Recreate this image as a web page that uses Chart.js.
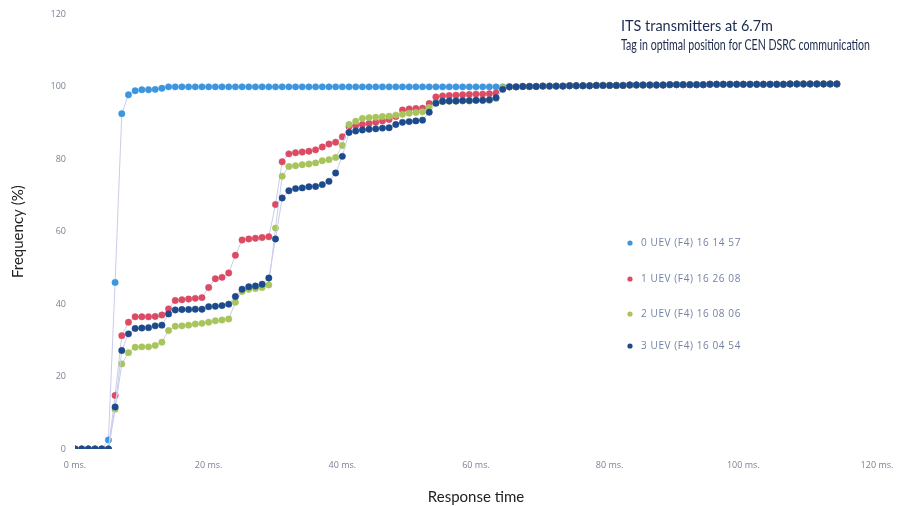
<!DOCTYPE html>
<html>
<head>
<meta charset="utf-8">
<script src="https://cdn.jsdelivr.net/npm/chart.js@4.4.1/dist/chart.umd.min.js"></script>
<style>
  html, body { margin: 0; padding: 0; background: #ffffff; }
  #wrap { width: 909px; height: 506px; position: relative; }
</style>
</head>
<body>
<div id="wrap"><canvas id="myChart"></canvas></div>
<script>
// response time in ms, one point per ms
const times = [
  0, 1, 2, 3, 4, 5, 6, 7, 8, 9, 10, 11, 12, 13, 14, 15, 16, 17, 18, 19,
  20, 21, 22, 23, 24, 25, 26, 27, 28, 29, 30, 31, 32, 33, 34, 35, 36, 37, 38, 39,
  40, 41, 42, 43, 44, 45, 46, 47, 48, 49, 50, 51, 52, 53, 54, 55, 56, 57, 58, 59,
  60, 61, 62, 63, 64, 65, 66, 67, 68, 69, 70, 71, 72, 73, 74, 75, 76, 77, 78, 79,
  80, 81, 82, 83, 84, 85, 86, 87, 88, 89, 90, 91, 92, 93, 94, 95, 96, 97, 98, 99,
  100, 101, 102, 103, 104, 105, 106, 107, 108, 109, 110, 111, 112, 113, 114
];

const seriesLabels = ['0 UEV (F4) 16 14 57', '1 UEV (F4) 16 26 08', '2 UEV (F4) 16 08 06', '3 UEV (F4) 16 04 54'];
const seriesColors = ['#3b96df', '#db4b64', '#a8c45c', '#1d4a8c'];

// 0..64 ms
const uev0Head = [
  0, 0, 0, 0, 0, 2.5, 46, 92.6, 97.8, 98.9, 99.2, 99.2, 99.3, 99.6, 100, 100, 100, 100, 100, 100,
  100, 100, 100, 100, 100, 100, 100, 100, 100, 100, 100, 100, 100, 100, 100, 100, 100, 100, 100, 100,
  100, 100, 100, 100, 100, 100, 100, 100, 100, 100, 100, 100, 100, 100, 100, 100, 100, 100, 100, 100,
  100, 100, 100, 100, 100
];
const uev1Head = [
  0, 0, 0, 0, 0, 0, 14.8, 31.3, 35, 36.5, 36.5, 36.5, 36.6, 37, 38.7, 41, 41.2, 41.4, 41.6, 41.8,
  44.6, 47, 47.4, 48.6, 53.5, 57.7, 58, 58.2, 58.4, 58.6, 67.5, 79.3, 81.5, 81.8, 82, 82.2, 82.6, 83.4, 84.2, 84.7,
  86.2, 89, 89.3, 89.6, 89.9, 90.2, 90.6, 91, 91.8, 93.6, 93.9, 94, 94.1, 95.4, 97.2, 97.5, 97.6, 97.7, 97.8, 97.9,
  98, 98, 98.1, 98.3, 99.6
];
const uev2Head = [
  0, 0, 0, 0, 0, 0, 11, 23.5, 26.6, 28.1, 28.2, 28.2, 28.6, 29.5, 32.7, 33.9, 34, 34.2, 34.5, 34.7,
  35, 35.4, 35.6, 35.9, 40.5, 43.5, 44.1, 44.3, 44.6, 45.3, 61, 75.3, 78, 78.2, 78.5, 78.7, 79, 79.6, 79.9, 80.5,
  83.8, 89.6, 90.5, 91.3, 91.5, 91.6, 91.8, 91.9, 92.2, 92.4, 92.7, 92.9, 93.1, 94.3, 95.5, 95.9, 96, 96, 96.1, 96.1,
  96.2, 96.2, 96.3, 96.8, 99.8
];
const uev3Head = [
  0, 0, 0, 0, 0, 0, 11.6, 27.2, 31.8, 33.3, 33.4, 33.5, 34, 34.2, 37.3, 38.4, 38.5, 38.5, 38.6, 38.6,
  39.3, 39.4, 39.6, 40, 42.1, 44.1, 44.8, 45, 45.5, 47.2, 58, 69.3, 71.3, 71.9, 72.1, 72.4, 72.5, 73, 73.9, 76.2,
  80.8, 87.4, 87.8, 88.1, 88.3, 88.4, 88.6, 88.7, 89.6, 90.2, 90.4, 90.6, 90.8, 93, 95.5, 96, 96.1, 96.1, 96.2, 96.2,
  96.3, 96.3, 96.4, 97, 99.3
];
// 65..114 ms, all four runs overlap here
const tailValues = [
  100, 100, 100.1, 100.1, 100.1, 100.2, 100.2, 100.2, 100.2, 100.3,
  100.3, 100.3, 100.3, 100.4, 100.4, 100.4, 100.4, 100.4, 100.5, 100.5,
  100.5, 100.5, 100.5, 100.5, 100.6, 100.6, 100.6, 100.6, 100.6, 100.6,
  100.7, 100.7, 100.7, 100.7, 100.7, 100.7, 100.7, 100.7, 100.7, 100.7,
  100.7, 100.7, 100.8, 100.8, 100.8, 100.8, 100.8, 100.8, 100.8, 100.8
];

const yTicks = [0, 20, 40, 60, 80, 100, 120];
const xTicks = [0, 20, 40, 60, 80, 100, 120];

const titleLines = ['ITS transmitters at 6.7m', 'Tag in optimal position for CEN DSRC communication'];

const allSeries = [uev0Head, uev1Head, uev2Head, uev3Head].map(function (head) {
  return head.concat(tailValues);
});

function toPoints(values) {
  return values.map(function (v, i) { return { x: times[i], y: v }; });
}

const datasets = allSeries.map(function (values, i) {
  return {
    label: seriesLabels[i],
    data: toPoints(values),
    borderColor: '#c9cdea',
    borderWidth: 1,
    backgroundColor: seriesColors[i],
    pointBackgroundColor: seriesColors[i],
    pointBorderColor: seriesColors[i],
    pointBorderWidth: 0.5,
    pointRadius: 3.2,
    order: 3 - i // last run on top
  };
});

// title block and legend drawn inside the plot, top right
const overlayPlugin = {
  id: 'overlay',
  afterDraw: function (chart) {
    const c = chart.ctx;
    c.save();
    c.fillStyle = '#1c2a4e';
    c.font = '15px "Liberation Sans Narrow", Lato';
    c.textBaseline = 'middle';
    c.textAlign = 'left';
    c.fillText(titleLines[0], 621, 26, 152);
    c.fillText(titleLines[1], 621, 45, 249);

    const rows = [243, 279, 314, 346];
    c.font = '10px "Open Sans"';
    c.letterSpacing = '0.6px';
    rows.forEach(function (y, i) {
      c.beginPath();
      c.fillStyle = seriesColors[i];
      c.arc(630, y, 2.6, 0, Math.PI * 2);
      c.fill();
      c.fillStyle = '#7282a2';
      c.fillText(seriesLabels[i], 641, y);
    });
    c.restore();
  }
};

const ctx = document.getElementById('myChart').getContext('2d');
new Chart(ctx, {
  type: 'line',
  data: { datasets: datasets },
  options: {
    responsive: true,
    maintainAspectRatio: false,
    animation: false,
    layout: { padding: { left: 0, right: 32, top: 13, bottom: 0 } },
    plugins: {
      legend: { display: false },
      tooltip: { enabled: false }
    },
    scales: {
      x: {
        type: 'linear',
        min: 0,
        max: 120,
        grid: { display: false, drawTicks: false },
        border: { display: false },
        afterBuildTicks: function (scale) {
          scale.ticks = xTicks.map(function (v) { return { value: v }; });
        },
        afterFit: function (scale) { scale.height = 57; },
        ticks: {
          padding: 11,
          color: '#7b8296',
          font: { family: 'Open Sans', size: 9 },
          maxRotation: 0,
          callback: function (value) { return value + ' ms.'; }
        },
        title: {
          display: true,
          text: 'Response time',
          color: '#222222',
          font: { family: 'Lato', size: 15 },
          padding: { top: 0, bottom: 0 }
        }
      },
      y: {
        min: 0,
        max: 120,
        grid: { display: false, drawTicks: false },
        border: { display: false },
        afterBuildTicks: function (scale) {
          scale.ticks = yTicks.map(function (v) { return { value: v }; });
        },
        afterFit: function (scale) { scale.width = 75; },
        ticks: {
          padding: 9,
          color: '#7b8296',
          font: { family: 'Open Sans', size: 9 }
        },
        title: {
          display: true,
          text: 'Frequency (%)',
          color: '#222222',
          font: { family: 'Lato', size: 15 },
          padding: { top: 9, bottom: 0 }
        }
      }
    }
  },
  plugins: [overlayPlugin]
});
</script>
</body>
</html>
